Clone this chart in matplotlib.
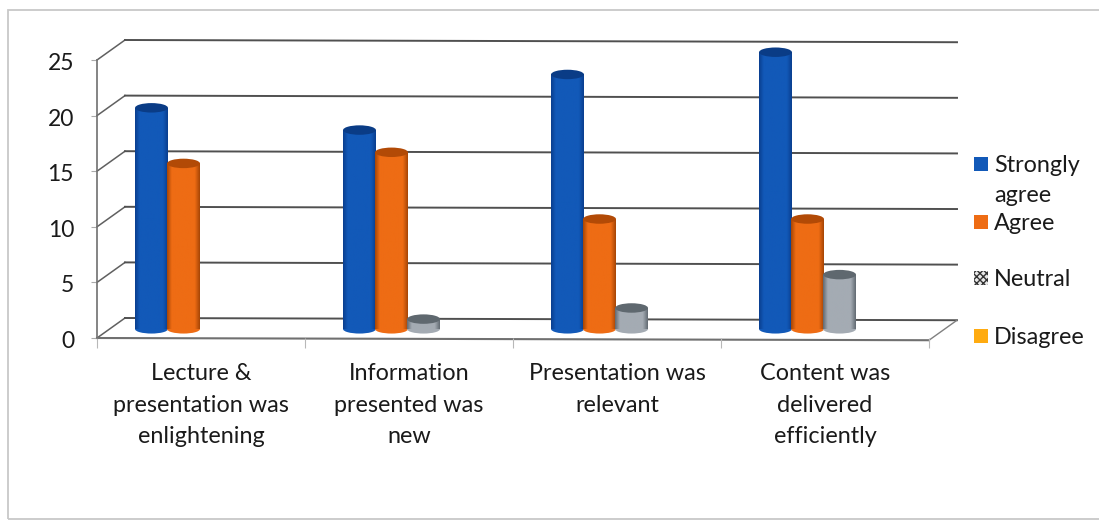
import numpy as np
import matplotlib
matplotlib.use("Agg")
import matplotlib.pyplot as plt
from matplotlib.colors import LinearSegmentedColormap
from matplotlib.patches import Ellipse, Rectangle
from matplotlib.transforms import ScaledTranslation

categories = [
    "Lecture &\npresentation was\nenlightening",
    "Information\npresented was\nnew",
    "Presentation was\nrelevant",
    "Content was\ndelivered\nefficiently",
]
series_names = ["Strongly\nagree", "Agree", "Neutral", "Disagree"]
strongly_agree = [20, 18, 23, 25]
agree = [15, 16, 10, 10]
neutral = [0, 1, 2, 5]
disagree = [0, 0, 0, 0]
y_ticks = [0, 5, 10, 15, 20, 25]

W, H = 1099, 523
INK = "#1a1a1a"
plt.rcParams["font.family"] = ["Lato", "DejaVu Sans"]

fig = plt.figure(figsize=(W / 100, H / 100), dpi=100)
ax = fig.add_axes([97 / W, 1 - 338 / H, 832 / W, 278 / H])
ax.set_xlim(0, 4)
ax.set_ylim(0, 25)

# frame round the whole chart
fig.add_artist(Rectangle((8 / W, 1 - 519 / H), 1095 / W, 509 / H, transform=fig.transFigure,
                         fill=False, ec="#c8c8c8", lw=1.3))

# fake 3d walls, offset of the back wall in data units
depth_x = 28 / 208
depth_y = 20 / 11.12
tilt = 0.2
for v in y_ticks:
    ax.plot([0, depth_x], [v, v + depth_y], color="#606060", lw=1.1, clip_on=False, zorder=1)
    ax.plot([depth_x, 4 + depth_x], [v + depth_y, v + depth_y - tilt], color="#505050", lw=1.4,
            clip_on=False, zorder=1)
ax.plot([0, 4], [0, -tilt], color="#707070", lw=1.5, clip_on=False, zorder=1)
ax.plot([4, 4 + depth_x], [-tilt, depth_y - tilt], color="#808080", lw=1.0, clip_on=False, zorder=1)

styles = [
    ("#0a3f90", "#1259b8", "#0a3c86"),
    ("#a84606", "#ee6c14", "#b24a06"),
    ("#646c74", "#a4abb3", "#5f686f"),
    ("#c98a00", "#ffab10", "#c98a00"),
]
bar_width = 0.158
offset = 0.262
step = 0.154
base = 0.8
cap_h = 0.85
values = [strongly_agree, agree, neutral, disagree]

for j, series in enumerate(values):
    edge, mid, top = styles[j]
    cmap = LinearSegmentedColormap.from_list("cyl", [(0, edge), (0.14, mid), (0.85, mid), (1, edge)])
    for i, v in enumerate(series):
        if v == 0:
            continue
        x = i + offset + j * step
        z = 3 + i * 10 + j * 3
        ax.add_patch(Ellipse((x, base), bar_width, 0.8, fc=mid, ec="none", zorder=z, clip_on=False))
        rect = ax.bar(x, v - 0.1, bar_width, bottom=base, color=mid, zorder=z, clip_on=False)[0]
        im = ax.imshow(np.linspace(0, 1, 64).reshape(1, -1), cmap=cmap, aspect="auto", zorder=z + 0.5,
                       extent=[x - bar_width / 2, x + bar_width / 2, base, base + v - 0.1])
        im.set_clip_path(rect)
        ax.add_patch(Ellipse((x, base + v - 0.1), bar_width, cap_h, fc=top, ec="none", zorder=z + 1,
                             clip_on=False))

ax.set_xlim(0, 4)
ax.set_ylim(0, 25)

for side in ["top", "right", "bottom"]:
    ax.spines[side].set_visible(False)
ax.spines["left"].set_color("#707070")
ax.spines["left"].set_linewidth(1.2)

ax.set_yticks(y_ticks)
ax.set_yticklabels([str(v) for v in y_ticks], fontsize=16.5, color=INK)
ax.tick_params(axis="y", length=4, color="#aaaaaa", pad=12.5)
shift = ScaledTranslation(0, -1.5 / 100, fig.dpi_scale_trans)
for label in ax.get_yticklabels():
    label.set_transform(label.get_transform() + shift)

ax.set_xticks([0, 1, 2, 3, 4])
ax.set_xticklabels([])
ax.tick_params(axis="x", length=7, color="#b8b8b8")
ax.set_xticks([0.5, 1.5, 2.5, 3.5], labels=categories, minor=True)
ax.tick_params(axis="x", which="minor", length=0, pad=18.2, labelsize=16.8, labelcolor=INK)
for label in ax.get_xticklabels(minor=True):
    label.set_linespacing(1.62)

# legend placed by hand since the entries are unevenly spaced
legend_y = [164, 222, 278, 336]
legend_label_y = [180.5, 223.5, 279.5, 337.5]
for name, ly, ty, style in zip(series_names, legend_y, legend_label_y, styles):
    hatch = "xxxxx" if name == "Neutral" else None
    fc = "#e8e8e8" if name == "Neutral" else style[1]
    fig.add_artist(Rectangle((974 / W, 1 - (ly + 7) / H), 14 / W, 14 / H, transform=fig.transFigure,
                             fc=fc, ec="#333333" if hatch else "none", lw=0, hatch=hatch))
    fig.text(994 / W, 1 - ty / H, name, fontsize=16.8, color=INK, va="center", ha="left", linespacing=1.55)

fig.savefig("out.png", dpi=100)
